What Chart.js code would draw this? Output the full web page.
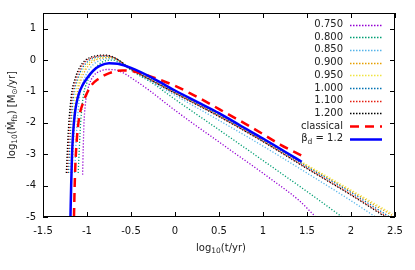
<!DOCTYPE html>
<html>
<head>
<meta charset="utf-8">
<script src="https://cdn.jsdelivr.net/npm/chart.js@4.4.0/dist/chart.umd.min.js"></script>
<style>
html, body { margin: 0; padding: 0; background: #fff; }
</style>
</head>
<body>
<canvas id="c" width="415" height="270"></canvas>
<script>
// beta values of the partial disruptions (dotted curves)
const betas = ["0.750", "0.800", "0.850", "0.900", "0.950", "1.000", "1.100", "1.200"];

// [log10(t/yr), log10(Mdot)]
const b075 = [[-1.05,-3.65],[-1.043,-2.8],[-1.034,-2.0],[-1.022,-1.5],[-1.003,-1.1],[-0.975,-0.78],[-0.925,-0.5],[-0.855,-0.36],[-0.77,-0.3],[-0.68,-0.31],[-0.58,-0.42],[-0.48,-0.6],[-0.3,-0.95],[0,-1.6],[0.52,-2.65],[1.08,-3.77],[1.4,-4.45],[1.6,-5]];
const b080 = [[-1.1,-3.6],[-1.087,-2.8],[-1.072,-2.0],[-1.057,-1.5],[-1.036,-1.05],[-0.998,-0.7],[-0.95,-0.42],[-0.89,-0.2],[-0.83,-0.07],[-0.77,-0.01],[-0.71,0.0],[-0.65,-0.05],[-0.58,-0.16],[-0.5,-0.32],[-0.4,-0.5],[-0.28,-0.69],[0,-1.25],[0.53,-2.28],[1.0,-3.2],[1.45,-4.09],[1.9,-5]];
const b085 = [[-1.14,-3.6],[-1.127,-2.8],[-1.112,-2.0],[-1.097,-1.5],[-1.076,-1.0],[-1.038,-0.65],[-0.988,-0.35],[-0.928,-0.14],[-0.86,-0.02],[-0.79,0.04],[-0.73,0.05],[-0.67,0.01],[-0.6,-0.1],[-0.52,-0.25],[-0.45,-0.38],[-0.3,-0.63],[0,-1.12],[0.5,-1.92],[1,-2.74],[1.5,-3.6],[2,-4.48],[2.28,-5]];
const b090 = [[-1.17,-3.6],[-1.157,-2.8],[-1.142,-2.0],[-1.127,-1.5],[-1.106,-1.0],[-1.068,-0.63],[-1.018,-0.32],[-0.958,-0.1],[-0.885,0.02],[-0.81,0.07],[-0.75,0.08],[-0.68,0.04],[-0.61,-0.06],[-0.53,-0.21],[-0.45,-0.35],[-0.3,-0.58],[0,-1.02],[0.5,-1.75],[1,-2.55],[1.5,-3.37],[2,-4.18],[2.47,-4.95]];
const b095 = [[-1.19,-3.6],[-1.177,-2.8],[-1.162,-2.0],[-1.147,-1.5],[-1.126,-1.0],[-1.088,-0.62],[-1.038,-0.3],[-0.978,-0.08],[-0.905,0.04],[-0.83,0.09],[-0.76,0.1],[-0.69,0.06],[-0.62,-0.04],[-0.54,-0.2],[-0.45,-0.35],[-0.3,-0.57],[0,-1.01],[0.5,-1.73],[1,-2.52],[1.5,-3.34],[2,-4.14],[2.47,-4.9]];
const b100 = [[-1.21,-3.6],[-1.197,-2.8],[-1.182,-2.0],[-1.167,-1.5],[-1.146,-1.0],[-1.108,-0.61],[-1.058,-0.28],[-0.998,-0.06],[-0.925,0.06],[-0.85,0.11],[-0.78,0.12],[-0.7,0.08],[-0.63,-0.02],[-0.55,-0.19],[-0.45,-0.36],[-0.3,-0.58],[0,-1.03],[0.5,-1.76],[1,-2.56],[1.5,-3.4],[2,-4.22],[2.44,-5]];
const b110 = [[-1.225,-3.6],[-1.212,-2.8],[-1.197,-2.0],[-1.182,-1.5],[-1.161,-1.0],[-1.123,-0.6],[-1.073,-0.26],[-1.013,-0.04],[-0.94,0.08],[-0.86,0.13],[-0.79,0.14],[-0.71,0.1],[-0.64,-0.01],[-0.55,-0.2],[-0.45,-0.37],[-0.3,-0.6],[0,-1.05],[0.5,-1.79],[1,-2.59],[1.5,-3.44],[2,-4.28],[2.41,-5]];
const b120 = [[-1.235,-3.6],[-1.222,-2.8],[-1.207,-2.0],[-1.192,-1.5],[-1.172,-1.0],[-1.135,-0.58],[-1.085,-0.24],[-1.025,-0.02],[-0.95,0.1],[-0.87,0.15],[-0.8,0.16],[-0.72,0.12],[-0.64,0.0],[-0.55,-0.2],[-0.45,-0.38],[-0.3,-0.6],[0,-1.06],[0.5,-1.8],[1,-2.6],[1.5,-3.46],[2,-4.3],[2.39,-5]];
const classical = [[-1.148,-5],[-1.14,-4],[-1.13,-3.2],[-1.115,-2.5],[-1.09,-1.85],[-1.05,-1.4],[-1.0,-1.05],[-0.95,-0.8],[-0.87,-0.6],[-0.76,-0.43],[-0.6,-0.33],[-0.45,-0.37],[-0.28,-0.52],[0,-0.82],[0.2,-1.1],[0.4,-1.4],[0.6,-1.72],[0.8,-2.03],[1.0,-2.36],[1.2,-2.7],[1.45,-3.06]];
const beta12 = [[-1.188,-5],[-1.18,-4],[-1.17,-3],[-1.157,-2.3],[-1.14,-1.75],[-1.12,-1.38],[-1.09,-1.05],[-1.05,-0.8],[-1.0,-0.58],[-0.93,-0.34],[-0.85,-0.18],[-0.75,-0.1],[-0.65,-0.12],[-0.5,-0.25],[-0.25,-0.58],[0,-0.97],[0.25,-1.33],[0.5,-1.69],[0.75,-2.1],[1.0,-2.5],[1.25,-2.92],[1.44,-3.24]];

const xTicks = [-1.5, -1, -0.5, 0, 0.5, 1, 1.5, 2, 2.5];
const yTicks = [-5, -4, -3, -2, -1, 0, 1];

const betaSeries = [b075, b080, b085, b090, b095, b100, b110, b120];
const betaColors = ["#9400d3", "#009e73", "#56b4e9", "#e69f00", "#f0e442", "#0072b2", "#e51e10", "#000000"];

const FONT = '"DejaVu Sans", sans-serif';

const datasets = betaSeries.map((s, i) => ({
    label: betas[i], data: s, borderColor: betaColors[i], borderWidth: 1.3,
    borderDash: [1.2, 1.8], order: 9 - i
}));
datasets.push({ label: 'classical', data: classical, borderColor: '#ff0000', borderWidth: 2.5, borderDash: [9, 6], order: 1 });
datasets.push({ label: 'beta_d', data: beta12, borderColor: '#0000ff', borderWidth: 2.5, order: 0 });

// text with subscripts: segments [text, isSub]
function richWidth(ctx, segs, size) {
    let w = 0;
    segs.forEach(([t, sub]) => { ctx.font = (sub ? size * 0.75 : size) + 'px ' + FONT; w += ctx.measureText(t).width; });
    return w;
}
function drawRich(ctx, segs, x, y, size) {
    segs.forEach(([t, sub]) => {
        ctx.font = (sub ? size * 0.75 : size) + 'px ' + FONT;
        ctx.fillText(t, x, sub ? y + 3 : y);
        x += ctx.measureText(t).width;
    });
}

const decor = {
    id: 'decor',
    afterDatasetsDraw(chart) {
        const { ctx, chartArea: a, scales: { x, y } } = chart;
        ctx.save();
        ctx.strokeStyle = '#000';
        ctx.lineWidth = 1;
        ctx.beginPath();
        xTicks.forEach(v => {
            const px = Math.round(x.getPixelForValue(v)) + 0.5;
            ctx.moveTo(px, a.bottom); ctx.lineTo(px, a.bottom - 5);
            ctx.moveTo(px, a.top); ctx.lineTo(px, a.top + 5);
        });
        yTicks.forEach(v => {
            const py = Math.round(y.getPixelForValue(v)) + 0.5;
            ctx.moveTo(a.left, py); ctx.lineTo(a.left + 5, py);
            ctx.moveTo(a.right, py); ctx.lineTo(a.right - 5, py);
        });
        ctx.stroke();
        ctx.strokeRect(a.left + 0.5, a.top + 0.5, a.right - a.left - 1, a.bottom - a.top - 1);

        // legend: right-aligned text with the sample line on its right
        ctx.textBaseline = 'middle';
        let ly = 24.5;
        chart.data.datasets.forEach((ds, i) => {
            ctx.fillStyle = '#222';
            if (ds.label === 'beta_d') {
                const segs = [['β', false], ['d', true], [' = 1.2', false]];
                ctx.textAlign = 'left';
                drawRich(ctx, segs, 343 - richWidth(ctx, segs, 10), ly, 10);
            } else {
                ctx.font = '10px ' + FONT;
                ctx.textAlign = 'right';
                ctx.fillText(ds.label, 343, ly);
            }
            const yy = Math.round(ly);
            if (i < betaColors.length) {
                ctx.fillStyle = betaColors[i];
                for (let xx = 350; xx <= 382; xx += 3) ctx.fillRect(xx, yy - 0.25, 1.5, 1.5);
            } else {
                ctx.strokeStyle = ds.borderColor;
                ctx.lineWidth = ds.borderWidth;
                ctx.setLineDash(ds.borderDash || []);
                ctx.beginPath();
                ctx.moveTo(350, yy + 0.5);
                ctx.lineTo(382, yy + 0.5);
                ctx.stroke();
                ctx.setLineDash([]);
            }
            ly += 12.7;
        });

        // axis titles
        ctx.fillStyle = '#222';
        ctx.textAlign = 'left';
        const xt = [['log', false], ['10', true], ['(t/yr)', false]];
        drawRich(ctx, xt, 221 - richWidth(ctx, xt, 10) / 2, 248, 10);
        const yt = [['log', false], ['10', true], ['(Ṁ', false], ['fb', true], [') [M', false], ['⊙', true], ['/yr]', false]];
        ctx.translate(12, 115);
        ctx.rotate(-Math.PI / 2);
        drawRich(ctx, yt, -richWidth(ctx, yt, 10) / 2, 0, 10);
        ctx.restore();
    }
};

new Chart(document.getElementById('c'), {
    type: 'line',
    data: { datasets },
    options: {
        responsive: false,
        animation: false,
        elements: { point: { radius: 0 }, line: { cubicInterpolationMode: 'monotone', fill: false } },
        layout: { padding: { top: 13, right: 20, left: 0, bottom: 0 } },
        plugins: { legend: { display: false }, tooltip: { enabled: false } },
        scales: {
            x: {
                type: 'linear', min: -1.5, max: 2.5,
                grid: { display: false, drawTicks: false }, border: { display: false },
                afterBuildTicks: s => { s.ticks = xTicks.map(v => ({ value: v })); },
                afterFit: s => { s.height = 53; },
                ticks: { padding: 8, color: '#111', font: { family: FONT, size: 10 }, callback: v => String(v), maxRotation: 0 }
            },
            y: {
                type: 'linear', min: -5, max: 1.5,
                grid: { display: false, drawTicks: false }, border: { display: false },
                afterBuildTicks: s => { s.ticks = yTicks.map(v => ({ value: v })); },
                afterFit: s => { s.width = 43; },
                ticks: { padding: 7, color: '#111', font: { family: FONT, size: 10 }, callback: v => String(v) }
            }
        }
    },
    plugins: [decor]
});
</script>
</body>
</html>
